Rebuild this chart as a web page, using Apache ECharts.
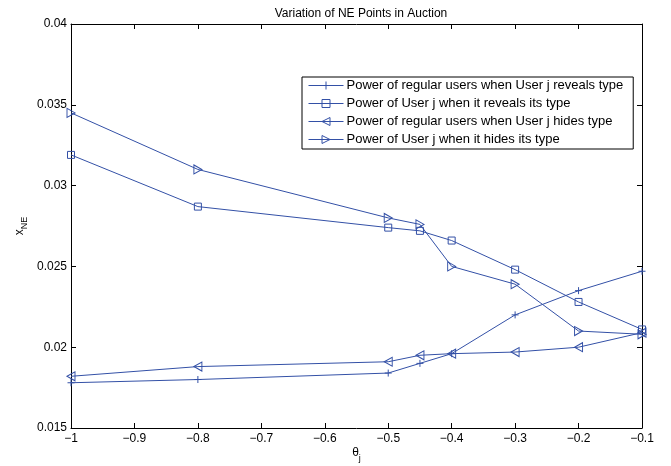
<!DOCTYPE html>
<html>
<head>
<meta charset="utf-8">
<script src="https://cdn.jsdelivr.net/npm/echarts@6/dist/echarts.min.js"></script>
<style>
  html, body { margin: 0; padding: 0; background: #fff; }
  #chart { width: 671px; height: 466px; }
</style>
</head>
<body>
<div id="chart"></div>
<script>
// theta_j values
const theta = [-1, -0.8, -0.5, -0.45, -0.4, -0.3, -0.2, -0.1];

// series values
const regularReveal = [0.0178, 0.0180, 0.0184, 0.0190, 0.0196, 0.0220, 0.0235, 0.0247];
const userReveal = [0.0319, 0.0287, 0.0274, 0.0272, 0.0266, 0.0248, 0.0228, 0.0211];
const regularHide = [0.0182, 0.0188, 0.0191, 0.0195, 0.0196, 0.0197, 0.0200, 0.0209];
const userHide = [0.0345, 0.0310, 0.0280, 0.0276, 0.0250, 0.0239, 0.0210, 0.0208];

const seriesNames = [
  'Power of regular users when User j reveals type',
  'Power of User j when it reveals its type',
  'Power of regular users when User j hides type',
  'Power of User j when it hides its type'
];

const blue = '#3350a6';
const font = 'Liberation Sans, Arial, sans-serif';

const chart = echarts.init(document.getElementById('chart'));

function pairs(vals) {
  return theta.map((t, i) => [t, vals[i]]);
}

function mkSeries(name, vals, symbol, size) {
  return {
    name: name,
    type: 'line',
    data: pairs(vals),
    symbol: symbol,
    symbolSize: size,
    showAllSymbol: true,
    xAxisIndex: 0,
    yAxisIndex: 0,
    lineStyle: { color: blue, width: 1 },
    itemStyle: { color: 'rgba(255,255,255,0)', borderColor: blue, borderWidth: 1 },
    emphasis: { disabled: true },
    z: 3
  };
}

const fmtMinus = v => String(v).replace('-', '\u2212');

const option = {
  animation: false,
  title: {
    text: 'Variation of NE Points in Auction',
    left: 356,
    textAlign: 'center',
    top: 3,
    textStyle: { fontFamily: font, fontSize: 12, fontWeight: 'normal', color: '#000' }
  },
  grid: { left: 71, right: 29, top: 24, bottom: 38, outerBoundsMode: 'none', containLabel: false },
  legend: {
    orient: 'vertical',
    left: 302,
    top: 77,
    padding: [2, 10, 3, 6],
    itemWidth: 35,
    itemHeight: 10,
    itemGap: 5,
    borderColor: '#000',
    borderWidth: 1,
    backgroundColor: '#fff',
    lineStyle: { width: 1 },
    itemStyle: { borderWidth: 1 },
    textStyle: { fontFamily: font, fontSize: 13, color: '#000', padding: [0, 0, 0, -2] },
    data: seriesNames
  },
  xAxis: [{
    type: 'value',
    min: -1,
    max: -0.1,
    interval: 0.1,
    position: 'bottom',
    name: '{t|\u03b8}{s|j}',
    nameLocation: 'middle',
    nameGap: 14,
    nameMoveOverlap: false,
    nameTextStyle: {
      rich: {
        t: { fontFamily: font, fontSize: 12, color: '#000' },
        s: { fontFamily: font, fontSize: 9, color: '#000', padding: [12, 0, 0, 0] }
      }
    },
    axisLine: { onZero: false, lineStyle: { color: '#000', width: 1 } },
    axisTick: { inside: true, length: 5, lineStyle: { color: '#000' } },
    axisLabel: { fontFamily: font, fontSize: 12, color: '#000', margin: 5, formatter: fmtMinus },
    splitLine: { show: false }
  }, {
    type: 'value',
    min: -1,
    max: -0.1,
    interval: 0.1,
    position: 'top',
    axisLine: { onZero: false, lineStyle: { color: '#000', width: 1 } },
    axisTick: { inside: true, length: 5, lineStyle: { color: '#000' } },
    axisLabel: { show: false },
    splitLine: { show: false }
  }],
  yAxis: [{
    type: 'value',
    min: 0.015,
    max: 0.04,
    interval: 0.005,
    position: 'left',
    name: '{t|x}{s|NE}',
    nameLocation: 'middle',
    nameGap: 42,
    nameMoveOverlap: false,
    nameTextStyle: {
      rich: {
        t: { fontFamily: font, fontSize: 12, color: '#000' },
        s: { fontFamily: font, fontSize: 9, color: '#000', padding: [10, 0, 0, 0] }
      }
    },
    axisLine: { onZero: false, lineStyle: { color: '#000', width: 1 } },
    axisTick: { inside: true, length: 5, lineStyle: { color: '#000' } },
    axisLabel: { fontFamily: font, fontSize: 12, color: '#000', margin: 4 },
    splitLine: { show: false }
  }, {
    type: 'value',
    min: 0.015,
    max: 0.04,
    interval: 0.005,
    position: 'right',
    axisLine: { onZero: false, lineStyle: { color: '#000', width: 1 } },
    axisTick: { inside: true, length: 5, lineStyle: { color: '#000' } },
    axisLabel: { show: false },
    splitLine: { show: false }
  }],
  series: [
    mkSeries(seriesNames[0], regularReveal, 'path://M0,5L10,5M5,0L5,10', 7),
    mkSeries(seriesNames[1], userReveal, 'rect', 7),
    mkSeries(seriesNames[2], regularHide, 'path://M0,5L9,0L9,10Z', [8, 9]),
    mkSeries(seriesNames[3], userHide, 'path://M9,5L0,0L0,10Z', [8, 9])
  ]
};

chart.setOption(option);
</script>
</body>
</html>
